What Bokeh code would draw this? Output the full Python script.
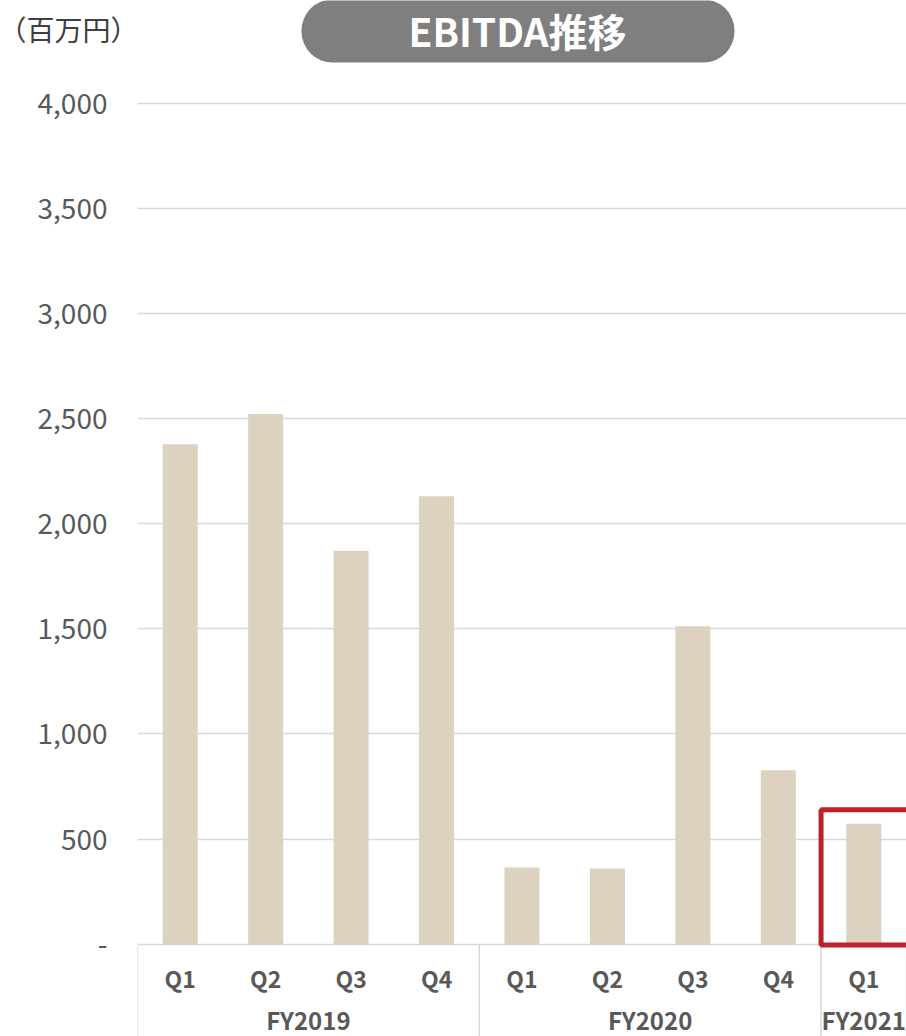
from bokeh.plotting import figure
from bokeh.layouts import column
from bokeh.models import (Range1d, FixedTicker, NumeralTickFormatter,
                          ColumnDataSource, Label, BoxAnnotation)
from bokeh.core.properties import value
from bokeh.embed import file_html
from bokeh.resources import INLINE

# ---- data ----
fiscal_years = ["FY2019", "FY2019", "FY2019", "FY2019",
                "FY2020", "FY2020", "FY2020", "FY2020",
                "FY2021"]
quarters = ["Q1", "Q2", "Q3", "Q4", "Q1", "Q2", "Q3", "Q4", "Q1"]
ebitda = [2378, 2522, 1871, 2130, 365, 360, 1512, 827, 573]
y_ticks = [0, 500, 1000, 1500, 2000, 2500, 3000, 3500, 4000]
unit_text = "（百万円）"
title_text = "EBITDA推移"
highlight_index = 8          # FY2021 Q1 is boxed
highlight_top = 640

FONT = "Noto Sans CJK JP"
GRID = "#D9D9D9"
TXT = "#595959"

n = len(quarters)
xpos = [i + 0.5 for i in range(n)]               # category centres
bounds = [0] + [i for i in range(1, n) if fiscal_years[i] != fiscal_years[i - 1]] + [n]
year_groups = [fiscal_years[b] for b in bounds[:-1]]
year_centres = [(bounds[k] + bounds[k + 1]) / 2 for k in range(len(year_groups))]

W = 906
TOP_H = 70
H = 966
LEFT = 137

# ---------- header strip (unit label + title pill) ----------
head = figure(width=W, height=TOP_H, x_range=Range1d(0, W), y_range=Range1d(TOP_H, 0),
              output_backend="svg", toolbar_location=None,
              x_axis_location=None, y_axis_location=None,
              min_border=0, min_border_left=0, min_border_right=0,
              min_border_top=0, min_border_bottom=0)
head.frame_align = False
head.outline_line_color = None
head.xgrid.visible = False
head.ygrid.visible = False
head.add_layout(BoxAnnotation(left=301, right=734, top=-1, bottom=62,
                              fill_color="#7F7F7F", fill_alpha=1.0, line_color=None,
                              border_radius=31))
head.add_layout(Label(x=517, y=29, text=title_text,
                      text_font=FONT, text_font_size="39px", text_font_style="bold",
                      text_color="white", text_align="center", text_baseline="middle"))
head.add_layout(Label(x=-2, y=28, text=unit_text,
                      text_font=FONT, text_font_size="28px",
                      text_color="#404040", text_align="left", text_baseline="middle"))

# ---------- main chart ----------
p = figure(width=W, height=H, x_range=Range1d(0, n), y_range=Range1d(-439, 4155.5),
           output_backend="svg", toolbar_location=None,
           x_axis_location=None, min_border_left=LEFT, min_border_right=0,
           min_border_top=0, min_border_bottom=0)
p.frame_align = False
p.outline_line_color = None
p.background_fill_color = "white"
p.border_fill_color = "white"

# pixel helper range for label rows (page y coordinates)
p.extra_y_ranges = {"py": Range1d(TOP_H + H, TOP_H)}

p.xgrid.visible = False
p.ygrid.ticker = FixedTicker(ticks=y_ticks)
p.ygrid.grid_line_color = GRID
p.ygrid.grid_line_width = 1.5

ax = p.yaxis[0]
ax.ticker = FixedTicker(ticks=y_ticks)
ax.formatter = NumeralTickFormatter(format="0,0")
ax.major_label_overrides = {0: "-"}
ax.axis_line_color = None
ax.major_tick_line_color = None
ax.minor_tick_line_color = None
ax.major_tick_out = 0
ax.major_label_standoff = 30
ax.major_label_text_font = FONT
ax.major_label_text_font_size = "28px"
ax.major_label_text_color = TXT

# bars
src = ColumnDataSource(dict(x=xpos, v=ebitda, q=quarters))
p.vbar(x="x", top="v", bottom=0, width=0.41, source=src,
       fill_color="#DDD1C0", line_color=None)

# category separators below the baseline
p.segment(x0=bounds, x1=bounds, y0=[0] * len(bounds), y1=[-439] * len(bounds),
          line_color=GRID, line_width=1.5)

# quarter labels
p.text(x="x", y=977, text="q", source=src, y_range_name="py",
       text_font=value(FONT), text_font_size="23px", text_font_style="bold",
       text_color=TXT, text_align="center", text_baseline="middle")
# fiscal year labels
p.text(x=year_centres, y=[1019] * len(year_groups), text=year_groups, y_range_name="py",
       text_font=value(FONT), text_font_size="24px", text_font_style="bold",
       text_color=TXT, text_align="center", text_baseline="middle")

# highlight box
p.quad(left=[highlight_index], right=[highlight_index + 1.5],
       top=[highlight_top], bottom=[-4],
       fill_color=None, line_color="#C0202B", line_width=5)

layout = column(head, p, spacing=0)
open("out.html", "w").write(file_html(layout, INLINE))
